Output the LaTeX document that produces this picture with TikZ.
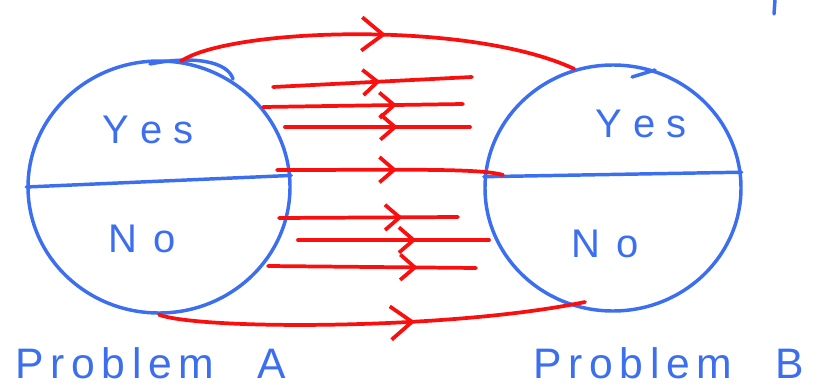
\documentclass[tikz,border=0pt]{standalone}
\usepackage{fontspec}
\setmainfont{Liberation Sans}
\usetikzlibrary{shapes.geometric,arrows.meta,decorations.markings}
\definecolor{pen}{RGB}{60,110,240}
\definecolor{ink}{RGB}{250,15,15}
\begin{document}
\begin{tikzpicture}[x=0.75pt,y=-0.75pt,
  bubble/.style={ellipse,draw=pen,line width=2.6pt,inner sep=0pt},
  divider/.style={draw=pen,line width=2.6pt,line cap=round},
  hand/.style={text=pen,inner sep=0pt,font=\fontsize{30}{30}\selectfont},
  title/.style={text=pen,inner sep=0pt,font=\fontsize{32}{32}\selectfont},
  redline/.style={draw=ink,line width=2.8pt,line cap=round},
  midtip/.style={postaction={decorate},decoration={markings,mark=at position #1 with {\arrow[ink,line width=2.8pt,line cap=round,line join=round]{Straight Barb[length=11pt,width=19pt]}}}},
  bigtip/.style={postaction={decorate},decoration={markings,mark=at position #1 with {\arrow[ink,line width=2.8pt,line cap=round,line join=round]{Straight Barb[length=16pt,width=25pt]}}}},
]
\useasboundingbox (0,0) rectangle (821,389);

% circles
\node[bubble,minimum width=196.5pt,minimum height=189pt] (L) at (159,187) {};
\node[bubble,minimum width=192pt,minimum height=184.5pt] (R) at (613,188) {};
\draw[divider] (L.west) -- (L.5);
\draw[divider] (R.175) -- (R.7);

% extra pen strokes
\draw[divider] (150,64) .. controls (195,55) and (228,62) .. (233,79);
\draw[divider] (632,77) -- (655,70);
\draw[divider] (775,0) -- (774,14);

% labels
\node[hand,anchor=base] (ly) at (148,143) {Y\kern8pt e\kern8pt s};
\node[hand,anchor=base] (ln) at (142,252) {N\kern12pt o};
\node[hand,anchor=base] (ry) at (641,137) {Y\kern8pt e\kern8pt s};
\node[hand,anchor=base] (rn) at (605,257) {N\kern12pt o};
\node[title,anchor=base west] (pa) at (15,378) {P\kern5pt r\kern5pt o\kern5pt b\kern5pt l\kern5pt e\kern5pt m\hspace{24pt} A};
\node[title,anchor=base west] (pb) at (533,378) {P\kern5pt r\kern5pt o\kern5pt b\kern5pt l\kern5pt e\kern5pt m\hspace{24pt} B};

% red arrow end points
\coordinate (s2) at (273,87);  \coordinate (e2) at (472,77);
\coordinate (s3) at (263,107); \coordinate (e3) at (463,104);
\coordinate (s4) at (285,127); \coordinate (e4) at (470,127);
\coordinate (s5) at (277,170); \coordinate (e5) at (503,175);
\coordinate (s6) at (279,218); \coordinate (e6) at (458,217);
\coordinate (s7) at (298,240); \coordinate (e7) at (489,240);
\coordinate (s8) at (268,266); \coordinate (e8) at (476,268);
\coordinate (e9) at (585,302);

% red arrows
\draw[redline,bigtip=0.52] (L.80) .. controls (230,28) and (470,20) .. (R.108);
\draw[redline,midtip=0.54] (s2) -- (e2);
\draw[redline,midtip=0.67] (s3) -- (e3);
\draw[redline,midtip=0.61] (s4) -- (e4);
\draw[redline,midtip=0.53] (s5) .. controls (400,170) and (480,168) .. (e5);
\draw[redline,midtip=0.69] (s6) -- (e6);
\draw[redline,midtip=0.62] (s7) -- (e7);
\draw[redline,midtip=0.72] (s8) -- (e8);
\draw[redline,bigtip=0.6] (L.270) .. controls (200,330) and (450,330) .. (e9);
\end{tikzpicture}
\end{document}
